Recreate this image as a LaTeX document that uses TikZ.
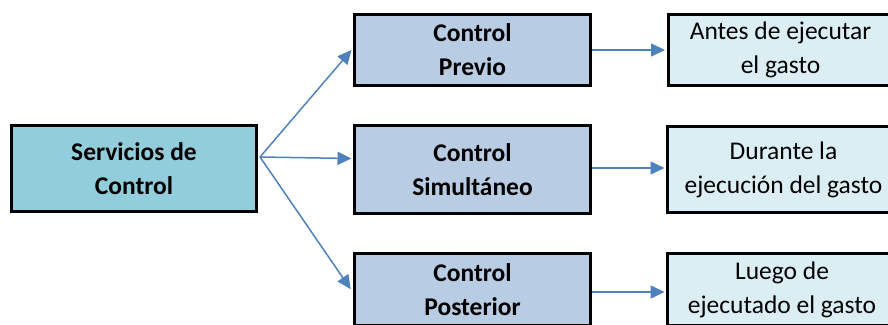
\documentclass[tikz,border=0pt]{standalone}
\usepackage{fontspec}
\setmainfont{Carlito}
\usetikzlibrary{arrows.meta}
\definecolor{svcfill}{HTML}{92CDDC}
\definecolor{ctlfill}{HTML}{B8CCE4}
\definecolor{whenfill}{HTML}{DBEEF3}
\definecolor{arrowblue}{HTML}{4F81BD}
\tikzset{
  box/.style={draw=black, line width=3pt, align=center, inner sep=0pt,
    font=\fontsize{25.5}{34}\selectfont},
  svcbox/.style={box, fill=svcfill, font=\fontsize{25.5}{34}\selectfont\bfseries,
    minimum width=245pt, minimum height=86pt},
  ctlbox/.style={box, fill=ctlfill, font=\fontsize{25.5}{34}\selectfont\bfseries,
    minimum width=236pt},
  whenbox/.style={box, fill=whenfill},
  conn/.style={draw=arrowblue, line width=1.5pt,
    -{Triangle[length=14pt,width=13pt]}}
}
\begin{document}
\begin{tikzpicture}[x=1pt,y=-1pt]
\useasboundingbox (0,0) rectangle (888,324);
\clip (0,0) rectangle (888,324);
\node[svcbox] (svc) at (134,168.5) {Servicios de\\Control};
\node[ctlbox, minimum height=71pt] (prev) at (472.5,50) {Control\\Previo};
\node[ctlbox, minimum height=88pt] (sim) at (472.5,169.5) {Control\\Simultáneo};
\node[ctlbox, minimum height=72pt] (post) at (472.5,289.5) {Control\\Posterior};
\node[whenbox, minimum width=225pt, minimum height=71pt] (antes) at (780.5,50) {Antes de ejecutar\\el gasto};
\node[whenbox, minimum width=232pt, minimum height=86pt] (dur) at (783.5,169.5) {Durante la\\ejecución del gasto};
\node[whenbox, minimum width=229pt, minimum height=72pt] (luego) at (782,289.5) {Luego de\\ejecutado el gasto};
\coordinate (o) at ([xshift=2pt,yshift=11.5pt]svc.east);
\coordinate (simin) at ([yshift=11pt]sim.west);
\draw[conn] (o) -- ([xshift=-1.5pt]prev.west);
\draw[conn] (o) -- ([xshift=-1.5pt]simin);
\draw[conn, shorten >=4pt] (o) -- ([yshift=-3pt]post.west);
\draw[conn] (prev.east) -- ([xshift=-1.5pt]antes.west);
\draw[conn] ([yshift=1.5pt]sim.east) -- ([xshift=-1.5pt,yshift=1.5pt]dur.west);
\draw[conn] ([yshift=-2.5pt]post.east) -- ([xshift=-1.5pt,yshift=-2.5pt]luego.west);
\end{tikzpicture}
\end{document}
